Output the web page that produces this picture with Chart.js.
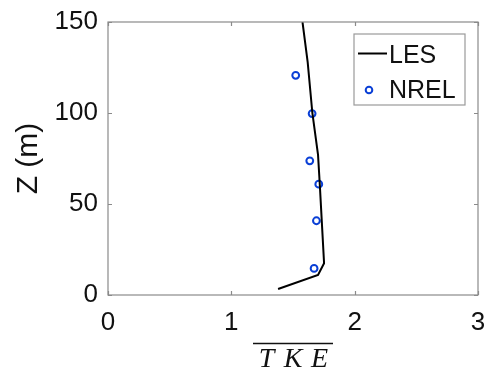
<!DOCTYPE html>
<html><head><meta charset="utf-8">
<script src="https://cdn.jsdelivr.net/npm/chart.js@4.4.0/dist/chart.umd.min.js"></script>
<style>html,body{margin:0;padding:0;background:#fff;}canvas{display:block}</style>
</head><body>
<canvas id="c" width="487" height="376"></canvas>
<script>
// LES profile (normalised TKE vs height)
const lesTKE = [1.379, 1.703, 1.752, 1.733, 1.717, 1.703, 1.657, 1.619, 1.577];
const lesZ   = [3.3, 11, 17.4, 41, 61, 77, 100, 128, 150];
// NREL measurements
const nrelTKE = [1.671, 1.690, 1.709, 1.636, 1.655, 1.522];
const nrelZ   = [14.6, 40.8, 60.9, 73.7, 99.7, 120.7];
// tick labels
const xTicks = [0, 1, 2, 3];
const yTicks = [0, 50, 100, 150];
const seriesNames = ['LES', 'NREL'];
const xTitle = 'TKE';
const yTitle = 'Z (m)';

const AX = '#8a8a8a';
const TXT = '#111111';
const SANS = "'Liberation Sans', Arial, sans-serif";

function noOverflow(s) { s.paddingTop = 0; s.paddingBottom = 0; s.paddingLeft = 0; s.paddingRight = 0; }

const framePlugin = {
  id: 'frame',
  afterDatasetsDraw(chart) {
    const {ctx, chartArea: a, scales} = chart;
    const xs = scales.x, ys = scales.y;
    ctx.save();
    ctx.strokeStyle = AX;
    ctx.lineWidth = 1.2;
    ctx.beginPath();
    const tl = 4;
    xTicks.forEach(v => {
      const px = Math.round(xs.getPixelForValue(v)) + 0.5;
      ctx.moveTo(px, a.bottom); ctx.lineTo(px, a.bottom - tl);
      ctx.moveTo(px, a.top); ctx.lineTo(px, a.top + tl);
    });
    yTicks.forEach(v => {
      const py = Math.round(ys.getPixelForValue(v)) + 0.5;
      ctx.moveTo(a.left, py); ctx.lineTo(a.left + tl, py);
      ctx.moveTo(a.right, py); ctx.lineTo(a.right - tl, py);
    });
    ctx.stroke();
    ctx.strokeRect(a.left, a.top, a.right - a.left, a.bottom - a.top);

    // x-axis title with overline
    const cx = (a.left + a.right) / 2;
    ctx.fillStyle = TXT;
    ctx.font = "italic 28px 'Liberation Serif', 'Times New Roman', serif";
    ctx.textAlign = 'center';
    ctx.textBaseline = 'alphabetic';
    const letters = xTitle.split('');
    const step = 26.5;
    letters.forEach((c, i) => {
      ctx.fillText(c, cx + (i - (letters.length - 1) / 2) * step, a.bottom + 72);
    });
    ctx.strokeStyle = TXT;
    ctx.lineWidth = 1.5;
    ctx.beginPath();
    ctx.moveTo(cx - 40, a.bottom + 48.5);
    ctx.lineTo(cx + 40, a.bottom + 48.5);
    ctx.stroke();

    // legend
    const lx = a.right - 124, ly = a.top + 12, lw = 111, lh = 71;
    ctx.fillStyle = '#fff';
    ctx.fillRect(lx, ly, lw, lh);
    ctx.strokeStyle = '#9a9a9a';
    ctx.lineWidth = 1.2;
    ctx.strokeRect(lx, ly, lw, lh);
    const ds = chart.data.datasets;
    ctx.font = '25px ' + SANS;
    ctx.textAlign = 'left';
    ctx.textBaseline = 'middle';
    ctx.strokeStyle = ds[0].borderColor;
    ctx.lineWidth = 2;
    ctx.beginPath();
    ctx.moveTo(lx + 4, ly + 19.5); ctx.lineTo(lx + 33, ly + 19.5);
    ctx.stroke();
    ctx.fillStyle = TXT;
    ctx.fillText(ds[0].label, lx + 35, ly + 22);
    ctx.strokeStyle = ds[1].borderColor;
    ctx.lineWidth = 2;
    ctx.beginPath();
    ctx.arc(lx + 15, ly + 56, 3.3, 0, Math.PI * 2);
    ctx.stroke();
    ctx.fillStyle = TXT;
    ctx.fillText(ds[1].label, lx + 35, ly + 57);
    ctx.restore();
  }
};

new Chart(document.getElementById('c'), {
  type: 'scatter',
  data: {
    datasets: [
      {label: seriesNames[0], data: lesTKE.map((v, i) => ({x: v, y: lesZ[i]})), showLine: true,
       borderColor: '#000000', backgroundColor: '#000000', borderWidth: 2, pointRadius: 0, tension: 0},
      {label: seriesNames[1], data: nrelTKE.map((v, i) => ({x: v, y: nrelZ[i]})), showLine: false,
       borderColor: '#0a3fd6', backgroundColor: 'rgba(255,255,255,0)', borderWidth: 2, pointRadius: 3.4}
    ]
  },
  options: {
    responsive: false,
    animation: false,
    devicePixelRatio: 1,
    layout: {padding: {left: 0, top: 22, right: 9, bottom: 0}},
    plugins: {legend: {display: false}, tooltip: {enabled: false}},
    scales: {
      x: {
        type: 'linear', min: 0, max: 3,
        afterBuildTicks: s => { s.ticks = xTicks.map(v => ({value: v})); },
        afterFit: s => { s.height = 81; noOverflow(s); },
        grid: {display: false, drawTicks: false, tickLength: 0},
        border: {display: false},
        ticks: {color: TXT, font: {family: SANS, size: 26}, padding: 12, maxRotation: 0}
      },
      y: {
        type: 'linear', min: 0, max: 150,
        afterBuildTicks: s => { s.ticks = yTicks.map(v => ({value: v})); },
        afterFit: s => { s.width = 108; noOverflow(s); },
        grid: {display: false, drawTicks: false, tickLength: 0},
        border: {display: false},
        ticks: {color: TXT, font: {family: SANS, size: 26}, padding: 10},
        title: {display: true, text: yTitle, color: TXT, font: {family: SANS, size: 30}, padding: {top: 11, bottom: 0}}
      }
    }
  },
  plugins: [framePlugin]
});
</script>
</body></html>
